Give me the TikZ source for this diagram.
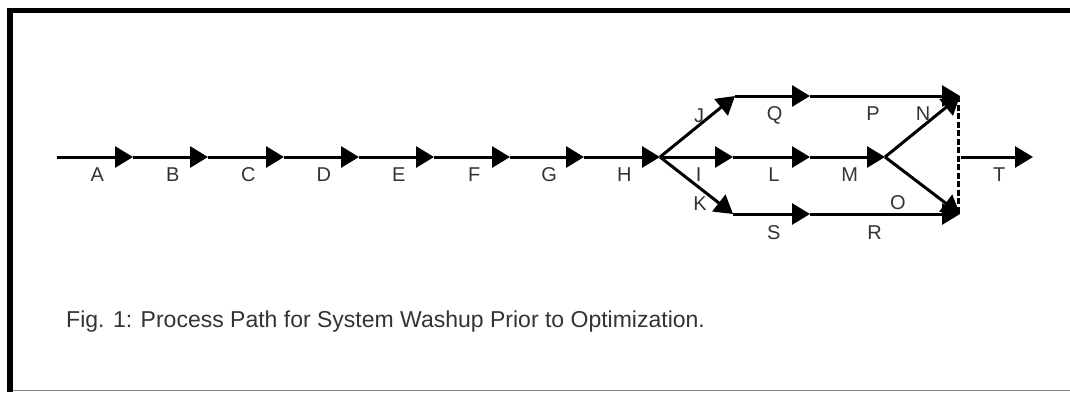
\documentclass[tikz,border=0pt]{standalone}
\usepackage{fontspec}
\setmainfont{Liberation Sans}
\usetikzlibrary{arrows.meta}
\begin{document}
\begin{tikzpicture}[x=1pt,y=-1pt,
  act/.style={line width=3pt,-{Triangle[length=18pt,width=21pt]}},
  lab/.style={anchor=base,text=black!80,font=\fontsize{20}{23}\selectfont,inner sep=0pt},
  lbl/.style={lab,pos=#1,yshift=-24pt},
  lbl/.default=0.53,
  frame/.style={fill=black,draw=none}]
\useasboundingbox (0,0) rectangle (1070,392);
% frame: heavy top and left rules, thin grey foot
\fill[frame] (7,8) rectangle (1070,13);
\fill[frame] (7,8) rectangle (13,392);
\draw[gray,line width=1.5pt] (13,390.5) -- (1070,390.5);

% events on the main line
\coordinate (s)  at (57,157);
\coordinate (e1) at (133,157);
\coordinate (e2) at (208,157);
\coordinate (e3) at (284,157);
\coordinate (e4) at (359,157);
\coordinate (e5) at (434,157);
\coordinate (e6) at (510,157);
\coordinate (e7) at (584,157);
\coordinate (e8) at (660,157);
% branch events
\coordinate (j)  at (735,96);
\coordinate (q)  at (810,96);
\coordinate (nt) at (960,96);
\coordinate (i)  at (733,157);
\coordinate (l)  at (810,157);
\coordinate (m)  at (885,157);
\coordinate (k)  at (733,214);
\coordinate (sb) at (810,214);
\coordinate (rb) at (960,214);
\coordinate (dt) at (958.5,96);
\coordinate (db) at (958.5,214);
\coordinate (t0) at (961,157);
\coordinate (t1) at (1033,157);

% serial activities A--H
\draw[act] (s)  -- node[lbl]{A} (e1);
\draw[act] (e1) -- node[lbl]{B} (e2);
\draw[act] (e2) -- node[lbl]{C} (e3);
\draw[act] (e3) -- node[lbl]{D} (e4);
\draw[act] (e4) -- node[lbl]{E} (e5);
\draw[act] (e5) -- node[lbl]{F} (e6);
\draw[act] (e6) -- node[lbl]{G} (e7);
\draw[act] (e7) -- node[lbl]{H} (e8);

% upper path
\draw[act] (e8) -- (j);
\draw[act] (j)  -- node[lbl=0.53]{Q} (q);
\draw[act] (q)  -- node[lbl=0.42]{P} (nt);
% middle path
\draw[act] (e8) -- node[lbl]{I} (i);
\draw[act] (i)  -- node[lbl]{L} (l);
\draw[act] (l)  -- node[lbl]{M} (m);
\draw[act] (m)  -- (nt);
\draw[act] (m)  -- (rb);
% lower path
\draw[act] (e8) -- (k);
\draw[act] (k)  -- node[lbl=0.53,yshift=-1pt]{S} (sb);
\draw[act] (sb) -- node[lbl=0.43,yshift=-1pt]{R} (rb);

% diagonal activity labels
\node[lab] (labJ) at (699,122) {J};
\node[lab] (labK) at (700,210) {K};
\node[lab] (labN) at (923,120) {N};
\node[lab] (labO) at (898,209) {O};

% dummy link and final activity
\draw[line width=3pt,dash pattern=on 6pt off 2.5pt] (dt) -- (db);
\draw[act] (t0) -- node[lbl]{T} (t1);

% caption
\node[anchor=base west,inner sep=0pt,text=black!80,
      font=\fontsize{23}{26}\selectfont] (cap) at (66,327)
  {Fig. 1: Process Path for System Washup Prior to Optimization.};
\end{tikzpicture}
\end{document}
